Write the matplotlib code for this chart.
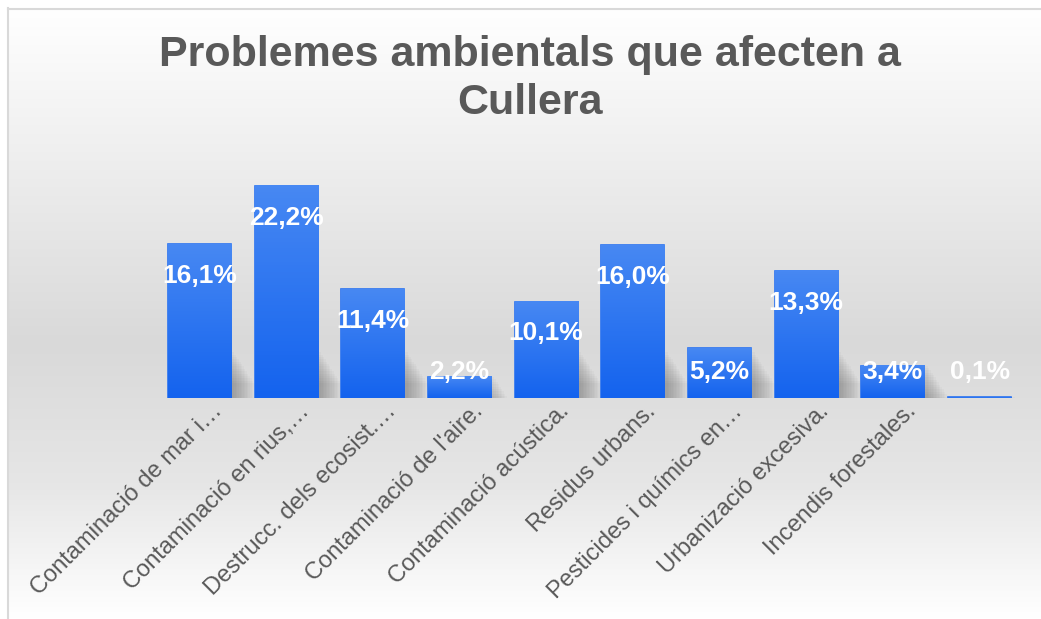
import numpy as np
import matplotlib.pyplot as plt
from matplotlib.patches import Rectangle
from matplotlib.colors import LinearSegmentedColormap
from matplotlib.transforms import ScaledTranslation

# data
categories = ["Contaminació de mar i…", "Contaminació en rius,…", "Destrucc. dels ecosist.…",
              "Contaminació de l'aire.", "Contaminació acústica.", "Residus urbans.",
              "Pesticides i químics en…", "Urbanizació excesiva.", "Incendis forestales.", ""]
values = [16.1, 22.2, 11.4, 2.2, 10.1, 16.0, 5.2, 13.3, 3.4, 0.1]
value_labels = ["16,1%", "22,2%", "11,4%", "2,2%", "10,1%", "16,0%", "5,2%", "13,3%", "3,4%", "0,1%"]

plt.rcParams['font.family'] = ['Liberation Sans', 'DejaVu Sans']
W, H = 1041, 619
fig = plt.figure(figsize=(W / 100, H / 100), dpi=100)
fig.patch.set_facecolor('white')

# chart area background: vertical gradient white -> gray -> white
bg = fig.add_axes([7 / W, 0, 1 - 7 / W, 1 - 8 / H])
bg.set_axis_off()
grad_cmap = LinearSegmentedColormap.from_list(
    'bg', [(0.0, '#ffffff'), (0.25, '#eeeeee'), (0.55, '#d9d9d9'), (0.78, '#e6e6e6'), (1.0, '#ffffff')])
bg.imshow(np.linspace(0, 1, 256).reshape(-1, 1), cmap=grad_cmap, aspect='auto',
          extent=[0, 1, 0, 1], origin='upper')
bg.set_xlim(0, 1)
bg.set_ylim(0, 1)
# chart border (left and top)
fig.add_artist(plt.Line2D([7.5 / W, 7.5 / W], [0, 1 - 8 / H], color='#d9d9d9', lw=1.5))
fig.add_artist(plt.Line2D([7.5 / W, 1], [1 - 8.5 / H, 1 - 8.5 / H], color='#d9d9d9', lw=1.5))

# plot area
ax = fig.add_axes([156 / W, (H - 398) / H, 867 / W, 238.75 / H])
ax.patch.set_alpha(0)
x = np.arange(len(categories))
bw = 0.727

# soft shadow at lower right of each bar
for xi, v in zip(x, values):
    for k in range(14):
        ax.add_patch(Rectangle((xi - bw / 2 + 0.02, 0), bw + 0.02 + k * 0.018, min(v, 4.8) - k * 0.25,
                               color='#505050', alpha=0.035, lw=0, zorder=1))

ax.bar(x, values, width=bw, color='#1a66ee', edgecolor='#2a72f0', linewidth=1.2, zorder=2)

# vertical gradient fill on each bar
bar_cmap = LinearSegmentedColormap.from_list('bar', ['#1463ee', '#4788f3'])
for xi, v in zip(x, values):
    ax.imshow(np.linspace(0, 1, 64).reshape(-1, 1), cmap=bar_cmap, aspect='auto', origin='lower',
              extent=[xi - bw / 2, xi + bw / 2, 0, v], zorder=3)

ax.set_xlim(-0.5, len(categories) - 0.5)
ax.set_ylim(0, 25)

for xi, v, lab in zip(x, values, value_labels):
    ly = max(v - 3.3, 2.75)
    ax.text(xi, ly, lab, ha='center', va='center', color='white', fontsize=19,
            fontweight='bold', zorder=4)

ax.set_xticks(x)
ax.set_xticklabels(categories, rotation=45, ha='right', va='top', rotation_mode='anchor',
                   fontsize=17, color='#595959')
ax.tick_params(axis='x', length=0, pad=8)
shift = ScaledTranslation(12 / 100, 9 / 100, fig.dpi_scale_trans)
for lbl in ax.get_xticklabels():
    lbl.set_transform(lbl.get_transform() + shift)
ax.set_yticks([])
for s in ax.spines.values():
    s.set_visible(False)

fig.text(530 / W, 1 - 55 / H, "Problemes ambientals que afecten a", ha='center', va='center',
         fontsize=31, fontweight='bold', color='#595959')
fig.text(530 / W, 1 - 103 / H, "Cullera", ha='center', va='center',
         fontsize=31, fontweight='bold', color='#595959')

fig.savefig('out.png', dpi=100)
